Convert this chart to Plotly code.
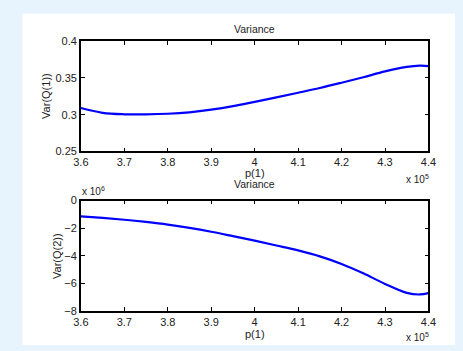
import plotly.graph_objects as go

# p(1) sample points and the two variance curves
p1 = [3.60e5, 3.65e5, 3.70e5, 3.75e5, 3.80e5, 3.85e5, 3.90e5, 3.95e5, 4.00e5,
      4.05e5, 4.10e5, 4.15e5, 4.20e5, 4.25e5, 4.30e5, 4.35e5, 4.38e5, 4.40e5]
var_q1 = [0.309, 0.3025, 0.3005, 0.3004, 0.3012, 0.3032, 0.3068, 0.3116, 0.3175,
          0.3235, 0.3298, 0.3363, 0.3435, 0.3510, 0.3590, 0.3650, 0.3667, 0.3662]
var_q2 = [-1.15e6, -1.26e6, -1.39e6, -1.55e6, -1.74e6, -1.98e6, -2.26e6, -2.58e6, -2.91e6,
          -3.26e6, -3.62e6, -4.05e6, -4.60e6, -5.28e6, -6.05e6, -6.70e6, -6.82e6, -6.72e6]

x_ticks = [3.6e5, 3.7e5, 3.8e5, 3.9e5, 4.0e5, 4.1e5, 4.2e5, 4.3e5, 4.4e5]
x_ticktext = ["3.6", "3.7", "3.8", "3.9", "4", "4.1", "4.2", "4.3", "4.4"]
y1_ticks = [0.25, 0.3, 0.35, 0.4]
y1_ticktext = ["0.25", "0.3", "0.35", "0.4"]
y2_ticks = [-8e6, -6e6, -4e6, -2e6, 0]
y2_ticktext = ["\u22128", "\u22126", "\u22124", "\u22122", "0"]

W, H = 463, 351
FONT = "Liberation Sans, Arial, Helvetica, sans-serif"
FS = 11


def px(x):
    return x / W


def py(y):
    return 1 - y / H


fig = go.Figure()
fig.add_trace(go.Scatter(x=p1, y=var_q1, mode="lines", line=dict(color="#0000FF", width=2.2, shape="spline"),
                         xaxis="x", yaxis="y", showlegend=False))
fig.add_trace(go.Scatter(x=p1, y=var_q2, mode="lines", line=dict(color="#0000FF", width=2.2, shape="spline"),
                         xaxis="x2", yaxis="y2", showlegend=False))

L, R = 75.5, 435.5
top_t, top_b = 36.5, 150.5
bot_t, bot_b = 201.5, 315.5

common_axis = dict(showgrid=False, zeroline=False, showline=True, linecolor="#000000", linewidth=1.6,
                   mirror="ticks", ticks="inside", ticklen=4, tickwidth=1, tickcolor="#000000",
                   tickfont=dict(family=FONT, size=FS, color="#222222"))

fig.update_layout(
    width=W, height=H, margin=dict(l=0, r=0, t=0, b=0),
    paper_bgcolor="#E8F4FD", plot_bgcolor="#FFFFFF",
    xaxis=dict(domain=[px(L), px(R)], range=[3.6e5, 4.4e5], anchor="y",
               tickvals=x_ticks, ticktext=x_ticktext, **common_axis),
    yaxis=dict(domain=[py(top_b), py(top_t)], range=[0.25, 0.4], anchor="x",
               tickvals=y1_ticks, ticktext=y1_ticktext, **common_axis),
    xaxis2=dict(domain=[px(L), px(R)], range=[3.6e5, 4.4e5], anchor="y2",
                tickvals=x_ticks, ticktext=x_ticktext, **common_axis),
    yaxis2=dict(domain=[py(bot_b), py(bot_t)], range=[-8e6, 0], anchor="x2",
                tickvals=y2_ticks, ticktext=y2_ticktext, **common_axis),
)

# white figure area inside the light blue frame
fig.add_shape(type="rect", xref="paper", yref="paper", x0=px(15), x1=1, y0=0, y1=py(8),
              fillcolor="#FFFFFF", line=dict(width=0), layer="below")

txt = dict(family=FONT, size=FS, color="#222222")


def label(text, x, y, angle=0, xanchor="center", size=FS):
    fig.add_annotation(text=text, x=px(x), y=py(y), xref="paper", yref="paper", showarrow=False,
                       textangle=angle, font=dict(txt, size=size), xanchor=xanchor, yanchor="middle")


mid = (L + R) / 2
label("Variance", mid, 24, size=10.5)
label("Variance", mid, 184, size=10.5)
label("p(1)", mid, 173)
label("p(1)", mid, 340)
label("Var(Q(1))", 40, (top_t + top_b) / 2, angle=-90)
label("Var(Q(2))", 50, (bot_t + bot_b) / 2, angle=-90)
label("x 10<sup>5</sup>", 410, 179, xanchor="left", size=10)
label("x 10<sup>5</sup>", 410, 343, xanchor="left", size=10)
label("x 10<sup>6</sup>", 75, 192, xanchor="left", size=10)

fig.write_html("out.html")
